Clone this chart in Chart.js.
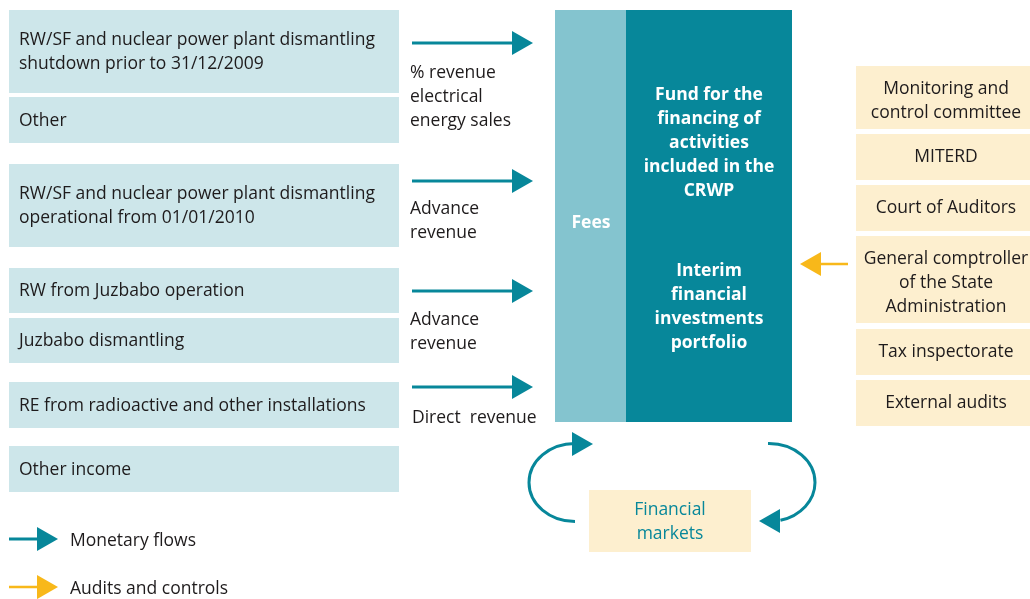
<!DOCTYPE html>
<html>
<head>
<meta charset="utf-8">
<script src="https://cdn.jsdelivr.net/npm/chart.js@4.4.1/dist/chart.umd.min.js"></script>
<style>
  html, body { margin: 0; background: #fff; }
  #wrap { width: 1030px; height: 599px; }
</style>
</head>
<body>
<div id="wrap"><canvas id="diagram" width="1030" height="599"></canvas></div>
<script>
// texts of the diagram
const sourceLabels = [
  'RW/SF and nuclear power plant dismantling\nshutdown prior to 31/12/2009',
  'Other',
  'RW/SF and nuclear power plant dismantling\noperational from 01/01/2010',
  'RW from Juzbabo operation',
  'Juzbabo dismantling',
  'RE from radioactive and other installations',
  'Other income'
];
const flowLabels = ['% revenue\nelectrical\nenergy sales', 'Advance\nrevenue', 'Advance\nrevenue', 'Direct  revenue'];
const feesLabel = 'Fees';
const fundLabels = ['Fund for the\nfinancing of\nactivities\nincluded in the\nCRWP', 'Interim\nfinancial\ninvestments\nportfolio'];
const auditLabels = [
  'Monitoring and\ncontrol committee',
  'MITERD',
  'Court of Auditors',
  'General comptroller\nof the State\nAdministration',
  'Tax inspectorate',
  'External audits'
];
const marketLabel = 'Financial\nmarkets';
const legendLabels = ['Monetary flows', 'Audits and controls'];

// layout, in diagram units (scale runs 0..1030 by 0..599)
const sourceX = [9, 399];
const sourceRows = [[10, 93], [97, 143], [164, 247], [268, 313], [318, 363], [382, 428], [446, 492]];
const flowY = [43, 181, 291, 387];
const flowX = [412, 519];
const flowTextY = [71, 207, 318, 416];
const feesBox = [555, 626, 10, 422];
const fundBox = [626, 792, 10, 422];
const fundTextY = [141, 305];
const auditX = [856, 1030];
const auditRows = [[66, 129], [134, 180], [185, 231], [236, 323], [329, 375], [380, 426]];
const auditArrow = { y: 264, from: 848, to: 814 };
const marketBox = [589, 751, 490, 552];
const legendY = [539, 587];

const TEAL = '#07879a';
const FEES = '#84c4cf';
const LIGHT = '#cde6ea';
const CREAM = '#fdefcf';
const YELLOW = '#f8b81a';
const INK = '#1e1b1c';
const FONT = '"Open Sans", "Noto Sans", sans-serif';
const TEXT_SHIFT = 2;

function arrow(points, color, width, rotation) {
  return {
    data: points,
    showLine: true,
    borderColor: color,
    borderWidth: width,
    pointRadius: [0, 14],
    pointStyle: 'triangle',
    rotation: rotation,
    pointBackgroundColor: color,
    pointBorderWidth: 0
  };
}

const datasets = [];
flowY.forEach(y => datasets.push(arrow([{ x: flowX[0], y }, { x: flowX[1], y }], TEAL, 3, 90)));
datasets.push(arrow([{ x: auditArrow.from, y: auditArrow.y }, { x: auditArrow.to, y: auditArrow.y }], YELLOW, 2.5, 270));
datasets.push(arrow([{ x: 9, y: legendY[0] }, { x: 44, y: legendY[0] }], TEAL, 3, 90));
datasets.push(arrow([{ x: 9, y: legendY[1] }, { x: 44, y: legendY[1] }], YELLOW, 2.5, 90));
// heads of the loop arrows around the financial markets
datasets.push({
  data: [{ x: 579, y: 444 }, { x: 773, y: 521 }],
  showLine: false,
  pointRadius: 14,
  pointStyle: 'triangle',
  rotation: [90, 270],
  pointBackgroundColor: TEAL,
  pointBorderWidth: 0
});

function textBlock(ctx, text, x, yMid, lh, align, font, color, maxW) {
  const lines = text.split('\n');
  ctx.save();
  ctx.font = font;
  ctx.fillStyle = color;
  ctx.textAlign = align;
  ctx.textBaseline = 'middle';
  let y = yMid + TEXT_SHIFT - (lines.length - 1) * lh / 2;
  lines.forEach(l => {
    if (maxW) ctx.fillText(l, x, y, maxW); else ctx.fillText(l, x, y);
    y += lh;
  });
  ctx.restore();
}

const diagramPlugin = {
  id: 'diagram',
  beforeDatasetsDraw(chart) {
    const { ctx, scales: { x, y } } = chart;
    const px = v => x.getPixelForValue(v);
    const py = v => y.getPixelForValue(v);
    const rect = (x0, x1, y0, y1, color) => {
      ctx.fillStyle = color;
      ctx.fillRect(px(x0), py(y0), px(x1) - px(x0), py(y1) - py(y0));
    };
    const body = '17.5px ' + FONT;
    const bold = 'bold 17.5px ' + FONT;

    sourceRows.forEach((r, i) => {
      rect(sourceX[0], sourceX[1], r[0], r[1], LIGHT);
      textBlock(ctx, sourceLabels[i], px(19), py((r[0] + r[1]) / 2 - 1), 24, 'left', body, INK, 368);
    });

    flowLabels.forEach((t, i) => {
      const firstLine = flowTextY[i];
      const n = t.split('\n').length;
      textBlock(ctx, t, px(i === 3 ? 412 : 410), py(firstLine + (n - 1) * 12), 24, 'left', body, INK);
    });

    rect(feesBox[0], feesBox[1], feesBox[2], feesBox[3], FEES);
    rect(fundBox[0], fundBox[1], fundBox[2], fundBox[3], TEAL);
    textBlock(ctx, feesLabel, px(591), py(221), 24, 'center', bold, '#fff');
    fundLabels.forEach((t, i) => {
      textBlock(ctx, t, px(709), py(fundTextY[i]), 24, 'center', bold, '#fff');
    });

    auditRows.forEach((r, i) => {
      const n = auditLabels[i].split('\n').length;
      textBlock(ctx, auditLabels[i], px(946), py((r[0] + r[1]) / 2 + (n > 1 ? 1.5 : -2)), 24, 'center', body, INK, 166);
    });

    rect(marketBox[0], marketBox[1], marketBox[2], marketBox[3], CREAM);
    textBlock(ctx, marketLabel, px(670), py(520), 24, 'center', body, TEAL);

    legendLabels.forEach((t, i) => {
      textBlock(ctx, t, px(70), py(legendY[i]), 24, 'left', body, INK);
    });

    // loops to and from the financial markets
    ctx.save();
    ctx.strokeStyle = TEAL;
    ctx.lineWidth = 3;
    const rx = px(46) - px(0), ry = py(39) - py(0);
    ctx.beginPath();
    ctx.ellipse(px(575), py(482.5), rx, ry, 0, Math.PI / 2, Math.PI * 1.5);
    ctx.lineTo(px(580), py(443.5));
    ctx.stroke();
    ctx.beginPath();
    ctx.moveTo(px(768), py(443.5));
    ctx.ellipse(px(769), py(482.5), rx, ry, 0, -Math.PI / 2, Math.PI * 0.42);
    ctx.stroke();
    ctx.restore();
  },
  beforeDraw(chart) {
    // cream audit boxes go under everything else
    const { ctx, scales: { x, y } } = chart;
    ctx.save();
    ctx.fillStyle = CREAM;
    auditRows.forEach(r => {
      const x0 = x.getPixelForValue(auditX[0]), x1 = x.getPixelForValue(auditX[1]);
      const y0 = y.getPixelForValue(r[0]), y1 = y.getPixelForValue(r[1]);
      ctx.fillRect(x0, y0, x1 - x0, y1 - y0);
    });
    ctx.restore();
  }
};

new Chart(document.getElementById('diagram'), {
  type: 'scatter',
  data: { datasets },
  options: {
    responsive: false,
    devicePixelRatio: 1,
    animation: false,
    events: [],
    layout: { padding: 0, autoPadding: false },
    plugins: { legend: { display: false }, tooltip: { enabled: false } },
    scales: {
      x: { type: 'linear', min: 0, max: 1030, display: false },
      y: { type: 'linear', min: 0, max: 599, reverse: true, display: false }
    }
  },
  plugins: [diagramPlugin]
});
</script>
</body>
</html>
